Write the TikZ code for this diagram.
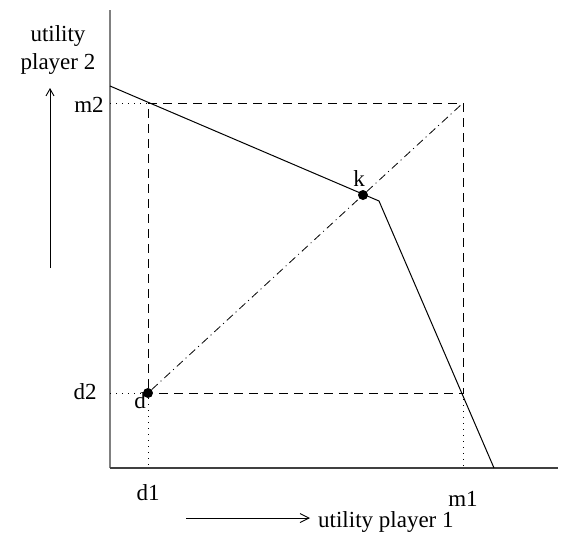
\documentclass[tikz,border=0pt]{standalone}
\usepackage{fontspec}
\setmainfont{Liberation Serif}
\usetikzlibrary{arrows.meta}

\begin{document}
\begin{tikzpicture}[x=1pt,y=-1pt,font=\fontsize{23}{28}\selectfont,
    guide/.style={dash pattern=on 9pt off 6pt,line width=0.8pt},
    dots/.style={dash pattern=on 1pt off 5pt,line width=1pt},
    dashdots/.style={dash pattern=on 8pt off 4pt on 1pt off 4pt,line width=0.8pt},
    frontier/.style={line width=1pt},
    spot/.style={circle,fill=black,inner sep=0pt,minimum size=10pt},
    lbl/.style={inner sep=0pt}]
    \useasboundingbox (0,0) rectangle (561,536);
    % axes
    \coordinate (O) at (110,468); \coordinate (ytop) at (110,10); \coordinate (xend) at (558,468);
    \draw[color=gray,line width=1.5pt] (O) -- (ytop);
    \draw[color=black!75,line width=1.3pt] (O) -- (xend);
    % corners of the box
    \coordinate (dm) at (463,103); \coordinate (dd) at (148,103); \coordinate (md) at (463,393);
    \coordinate (ym) at (110,103); \coordinate (yd) at (110,393); \coordinate (xd) at (148,468); \coordinate (xm) at (463,468);
    \node[spot] (d) at (148,393) {}; \node[spot] (k) at (363,195) {};
    \draw[guide] (d) -- (dd) -- (dm) -- (md) -- (d);
    \draw[dots] (ym) -- (dd); \draw[dots] (yd) -- (d); \draw[dots] (d) -- (xd); \draw[dots] (md) -- (xm);
    \draw[dashdots] (d) -- (k) -- (dm);
    % frontier
    \coordinate (f0) at (110,86); \coordinate (kink) at (379,201); \coordinate (f1) at (494,468);
    \draw[frontier] (f0) -- (kink) -- (f1);
    % labels
    \node[lbl,align=center] (u2) at (58,50) {utility\\player 2};
    \coordinate (a2s) at (50,268); \coordinate (a2e) at (50,88);
    \draw[-{Straight Barb[length=7pt,width=8pt]},line width=0.9pt] (a2s) -- (a2e);
    \node[lbl] (m2) at (89,105) {m2}; \node[lbl] (d2) at (85,392) {d2};
    \node[lbl] (dl) at (140,401) {d}; \node[lbl] (kl) at (359,179) {k};
    \node[lbl] (d1) at (148,493) {d1}; \node[lbl] (m1) at (463,499) {m1};
    \node[lbl,anchor=west] (u1) at (318,522) {utility player 1};
    \coordinate (a1s) at (186,518); \coordinate (a1e) at (310,518);
    \draw[-{Straight Barb[length=9pt,width=9pt]},line width=0.9pt] (a1s) -- (a1e);
\end{tikzpicture}
\end{document}
